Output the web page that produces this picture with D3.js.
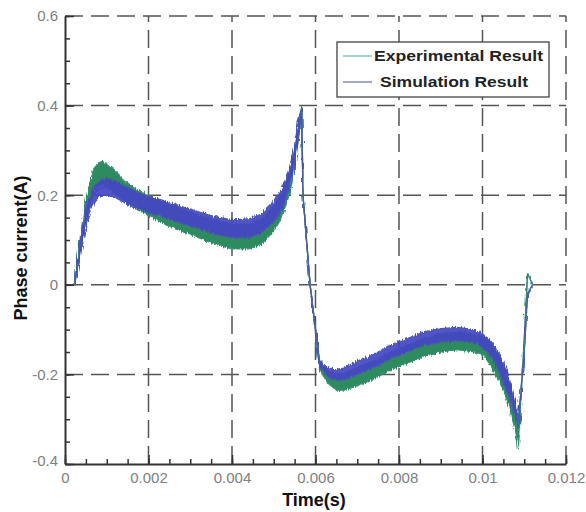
<!DOCTYPE html>
<html>
<head>
<meta charset="utf-8">
<script src="https://cdn.jsdelivr.net/npm/d3@7"></script>
<style>
  body { margin: 0; background: #fff; }
  svg { display: block; font-family: "Liberation Sans", Arial, sans-serif; }
</style>
</head>
<body>
<svg id="chart" width="586" height="512"></svg>
<script>
// sample times (s)
var timeS = [0.00024, 0.0003, 0.0004, 0.0005, 0.0006, 0.0007, 0.0008, 0.0009, 0.001,
  0.0012, 0.0014, 0.0016, 0.0018, 0.002, 0.0024, 0.0028, 0.0032, 0.0036, 0.004,
  0.0044, 0.0047, 0.005, 0.0052, 0.0054, 0.0055, 0.0056, 0.00567, 0.0057, 0.00587,
  0.0061, 0.0063, 0.0065, 0.0067, 0.007, 0.0074, 0.0078, 0.0082, 0.0086, 0.009,
  0.0094, 0.0098, 0.01, 0.0102, 0.0104, 0.0106, 0.0108, 0.01086, 0.011, 0.01108, 0.0112];

// experimental result, band (high / low) in A
var expHigh = [0.01, 0.06, 0.13, 0.19, 0.23, 0.26, 0.272, 0.275, 0.27,
  0.255, 0.235, 0.22, 0.21, 0.2, 0.185, 0.17, 0.155, 0.145, 0.135,
  0.135, 0.145, 0.175, 0.205, 0.265, 0.31, 0.37, 0.397, 0.2, 0.0,
  -0.17, -0.19, -0.2, -0.2, -0.185, -0.17, -0.15, -0.135, -0.12, -0.11,
  -0.105, -0.11, -0.115, -0.13, -0.16, -0.2, -0.27, -0.33, -0.12, 0.025, 0.0];
var expLow = [0.0, 0.03, 0.09, 0.14, 0.18, 0.21, 0.22, 0.225, 0.22,
  0.205, 0.19, 0.175, 0.165, 0.155, 0.135, 0.12, 0.105, 0.09, 0.08,
  0.08, 0.09, 0.12, 0.15, 0.21, 0.26, 0.33, 0.385, 0.2, 0.0,
  -0.19, -0.22, -0.235, -0.235, -0.225, -0.21, -0.19, -0.175, -0.16, -0.15,
  -0.145, -0.15, -0.155, -0.18, -0.215, -0.26, -0.33, -0.366, -0.12, 0.025, 0.0];

// simulation result, band (high / low) in A
var simHigh = [0.01, 0.05, 0.12, 0.17, 0.2, 0.22, 0.23, 0.235, 0.237,
  0.232, 0.222, 0.213, 0.205, 0.198, 0.187, 0.175, 0.163, 0.152, 0.145,
  0.147, 0.157, 0.185, 0.215, 0.27, 0.31, 0.37, 0.395, 0.2, 0.0,
  -0.17, -0.185, -0.19, -0.185, -0.17, -0.155, -0.135, -0.12, -0.105, -0.098,
  -0.095, -0.1, -0.11, -0.125, -0.155, -0.195, -0.26, -0.3, -0.15, -0.02, 0.0];
var simLow = [0.0, 0.03, 0.08, 0.13, 0.165, 0.185, 0.195, 0.2, 0.2,
  0.195, 0.185, 0.175, 0.168, 0.16, 0.15, 0.137, 0.125, 0.113, 0.105,
  0.105, 0.115, 0.14, 0.17, 0.225, 0.27, 0.335, 0.385, 0.2, 0.0,
  -0.185, -0.205, -0.215, -0.21, -0.2, -0.185, -0.165, -0.15, -0.135, -0.128,
  -0.125, -0.13, -0.14, -0.16, -0.195, -0.24, -0.3, -0.32, -0.15, -0.02, 0.0];

var xTicks = [0, 0.002, 0.004, 0.006, 0.008, 0.01, 0.012];
var xTickLabels = ["0", "0.002", "0.004", "0.006", "0.008", "0.01", "0.012"];
var yTicks = [-0.4, -0.2, 0, 0.2, 0.4, 0.6];
var yTickLabels = ["-0.4", "-0.2", "0", "0.2", "0.4", "0.6"];
var seriesNames = ["Experimental Result", "Simulation Result"];

var svg = d3.select("#chart");

var x = d3.scaleLinear().domain([0, 0.012]).range([65, 566]);
var y = d3.scaleLinear().domain([-0.4, 0.6]).range([464, 16]);

//noise look for the measured bands
var defs = svg.append("defs");
var f = defs.append("filter").attr("id", "noisy")
    .attr("x", "-5%").attr("y", "-20%").attr("width", "110%").attr("height", "140%");
f.append("feTurbulence")
    .attr("type", "fractalNoise")
    .attr("baseFrequency", "0.9 0.08")
    .attr("numOctaves", 2)
    .attr("seed", 3)
    .attr("result", "turb");
f.append("feDisplacementMap")
    .attr("in", "SourceGraphic").attr("in2", "turb")
    .attr("scale", 5)
    .attr("xChannelSelector", "B").attr("yChannelSelector", "G")
    .attr("result", "disp");
f.append("feGaussianBlur").attr("in", "disp").attr("stdDeviation", 0.5);

//dashed grid
var grid = svg.append("g")
    .attr("stroke", "#555")
    .attr("stroke-width", 1.5)
    .attr("stroke-dasharray", "18,8");
grid.selectAll(".hg")
    .data(yTicks.slice(1))
    .enter().append("line")
    .attr("x1", x(0)).attr("x2", x(0.012))
    .attr("y1", function(d){ return y(d); })
    .attr("y2", function(d){ return y(d); });
grid.selectAll(".vg")
    .data(xTicks.slice(1))
    .enter().append("line")
    .attr("y1", y(-0.4)).attr("y2", y(0.6))
    .attr("x1", function(d){ return x(d); })
    .attr("x2", function(d){ return x(d); });

//bands
function band(hi, lo) {
  return d3.area()
    .x(function(d, i){ return x(timeS[i]); })
    .y0(function(d, i){ return y(lo[i]); })
    .y1(function(d, i){ return y(hi[i]); })(timeS);
}
function mid(hi, lo) {
  return d3.line()
    .x(function(d, i){ return x(timeS[i]); })
    .y(function(d, i){ return y((hi[i] + lo[i]) / 2); })(timeS);
}

// clean thin traces (visible where the band collapses)
svg.append("path")
    .attr("d", mid(expHigh, expLow))
    .attr("fill", "none")
    .attr("stroke", "#3b7b7e")
    .attr("stroke-width", 1.3);
svg.append("path")
    .attr("d", mid(simHigh, simLow))
    .attr("fill", "none")
    .attr("stroke", "#4c5c92")
    .attr("stroke-width", 1.3);

svg.append("path")
    .attr("d", band(expHigh, expLow))
    .attr("fill", "#2d8a5e")
    .attr("stroke", "#3a8f78")
    .attr("stroke-width", 1.2)
    .attr("stroke-linejoin", "round")
    .attr("filter", "url(#noisy)");

svg.append("path")
    .attr("d", band(simHigh, simLow))
    .attr("fill", "#4545c4")
    .attr("fill-opacity", 0.92)
    .attr("stroke", "#4a5aa8")
    .attr("stroke-width", 1.2)
    .attr("stroke-linejoin", "round")
    .attr("filter", "url(#noisy)");

//axes
var xAxis = d3.axisBottom(x)
    .tickValues(xTicks)
    .tickFormat(function(d, i){ return xTickLabels[i]; })
    .tickSizeInner(-9).tickSizeOuter(0).tickPadding(5);
var yAxis = d3.axisLeft(y)
    .tickValues(yTicks)
    .tickFormat(function(d, i){ return yTickLabels[i]; })
    .tickSizeInner(-9).tickSizeOuter(0).tickPadding(7);

var xMinor = d3.range(0, 0.01201, 0.0005);
var yMinor = d3.range(-0.4, 0.601, 0.05);

svg.append("g")
    .attr("transform", "translate(0," + y(-0.4) + ")")
    .call(d3.axisBottom(x).tickValues(xMinor).tickFormat("").tickSizeInner(-5).tickSizeOuter(0))
    .call(function(g){ g.select(".domain").remove(); });
svg.append("g")
    .attr("transform", "translate(" + x(0) + ",0)")
    .call(d3.axisLeft(y).tickValues(yMinor).tickFormat("").tickSizeInner(-5).tickSizeOuter(0))
    .call(function(g){ g.select(".domain").remove(); });

var gx = svg.append("g")
    .attr("transform", "translate(0," + y(-0.4) + ")")
    .call(xAxis);
var gy = svg.append("g")
    .attr("transform", "translate(" + x(0) + ",0)")
    .call(yAxis);

svg.selectAll(".tick line").attr("stroke", "#333").attr("stroke-width", 1.5);
svg.selectAll(".domain").attr("stroke", "#333").attr("stroke-width", 2);
svg.selectAll(".tick text")
    .attr("fill", "#808080")
    .style("font-size", "15px");
gx.selectAll(".tick text").attr("dy", "0.9em");
gy.select(".tick:first-of-type text").attr("dy", "0.1em");

//axis titles
svg.append("text")
    .attr("x", 314).attr("y", 506)
    .attr("text-anchor", "middle")
    .style("font-size", "18px").style("font-weight", "bold")
    .attr("fill", "#111")
    .text("Time(s)");
svg.append("text")
    .attr("transform", "translate(27,248) rotate(-90)")
    .attr("text-anchor", "middle")
    .style("font-size", "18px").style("font-weight", "bold")
    .attr("fill", "#111")
    .text("Phase current(A)");

//legend
var legend = svg.append("g");
legend.append("rect")
    .attr("x", 337).attr("y", 42)
    .attr("width", 212).attr("height", 55)
    .attr("fill", "#fff")
    .attr("stroke", "#444").attr("stroke-width", 1.3);
var legColors = ["#72b8b8", "#7474b0"];
var legY = [56, 82];
var legTextX = [374, 380];
var legTextLen = [169, 148];
seriesNames.forEach(function(name, i) {
  legend.append("line")
    .attr("x1", 343).attr("x2", 372)
    .attr("y1", legY[i]).attr("y2", legY[i])
    .attr("stroke", legColors[i]).attr("stroke-width", 1.3);
  legend.append("text")
    .attr("x", legTextX[i]).attr("y", legY[i])
    .attr("dy", "0.36em")
    .attr("textLength", legTextLen[i])
    .attr("lengthAdjust", "spacingAndGlyphs")
    .style("font-size", "15px").style("font-weight", "bold")
    .attr("fill", "#222")
    .text(name);
});
</script>
</body>
</html>
